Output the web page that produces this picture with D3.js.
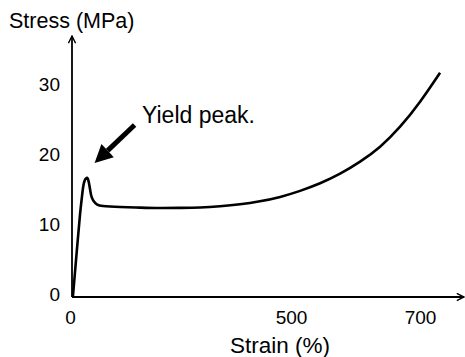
<!DOCTYPE html>
<html>
<head>
<meta charset="utf-8">
<script src="https://cdn.jsdelivr.net/npm/d3@7"></script>
<style>
  body { margin: 0; background: #fff; }
  text { font-family: "Liberation Sans", Arial, sans-serif; fill: #000; }
</style>
</head>
<body>
<div id="chart"></div>
<script>
// Strain (%) and stress (MPa)
var strain = [2, 11, 18, 23, 27, 33, 38, 43, 48, 57, 70, 86, 109, 154, 199, 244, 290, 335, 380, 425, 471, 511, 542, 573, 604, 635, 666, 697, 728];
var stress = [0, 6.7, 11.7, 14.6, 16.3, 17.0, 16.4, 14.6, 13.8, 13.2, 13.0, 12.93, 12.86, 12.77, 12.71, 12.73, 12.79, 12.96, 13.24, 13.67, 14.3, 15.16, 16.24, 17.61, 19.33, 21.47, 24.33, 27.9, 32.04];

var xTicks = [0, 500, 700];
var yTicks = [0, 10, 20, 30];

var svgWidth = 465;
var svgHeight = 357;

var svg = d3.select("#chart")
  .append("svg")
  .attr("width", svgWidth)
  .attr("height", svgHeight);

// the x axis of the original is not to scale, so the scale is piecewise
var xScale = d3.scaleLinear()
  .domain(xTicks)
  .range([72, 293, 422]);

var yScale = d3.scaleLinear()
  .domain([0, 30])
  .range([297, 87]);

// open arrow heads for the axes
var defs = svg.append("defs");
defs.append("marker")
  .attr("id", "axisArrow")
  .attr("viewBox", "0 0 10 10")
  .attr("refX", 9)
  .attr("refY", 5)
  .attr("markerWidth", 5)
  .attr("markerHeight", 5)
  .attr("markerUnits", "strokeWidth")
  .attr("orient", "auto")
  .append("path")
  .attr("d", "M1,1 L9,5 L1,9")
  .attr("fill", "none")
  .attr("stroke", "#000")
  .attr("stroke-width", 1.6);

// axes lines
svg.append("line")
  .attr("x1", xScale(0)).attr("y1", yScale(0))
  .attr("x2", svgWidth - 1).attr("y2", yScale(0))
  .attr("stroke", "#000")
  .attr("stroke-width", 1.8)
  .attr("marker-end", "url(#axisArrow)");

svg.append("line")
  .attr("x1", xScale(0)).attr("y1", yScale(0))
  .attr("x2", xScale(0)).attr("y2", 36)
  .attr("stroke", "#000")
  .attr("stroke-width", 1.8)
  .attr("marker-end", "url(#axisArrow)");

// tick labels
var bottomAxis = d3.axisBottom(xScale).tickValues(xTicks).tickSize(0).tickPadding(14);
var leftAxis = d3.axisLeft(yScale).tickValues(yTicks).tickSize(0).tickPadding(12);

var gx = svg.append("g")
  .attr("transform", `translate(0, ${yScale(0)})`)
  .call(bottomAxis);
gx.select(".domain").remove();
gx.selectAll("text")
  .attr("font-size", 19)
  .attr("font-family", "Liberation Sans, Arial, sans-serif")
  .attr("dx", -2);

var gy = svg.append("g")
  .attr("transform", `translate(${xScale(0)}, 0)`)
  .call(leftAxis);
gy.select(".domain").remove();
gy.selectAll("text")
  .attr("font-size", 19)
  .attr("font-family", "Liberation Sans, Arial, sans-serif")
  .attr("dy", "0.2em");

// axis titles
svg.append("text")
  .attr("x", 9)
  .attr("y", 28)
  .attr("font-size", 21.5)
  .text("Stress (MPa)");

svg.append("text")
  .attr("x", 280)
  .attr("y", 353)
  .attr("text-anchor", "middle")
  .attr("font-size", 22.5)
  .text("Strain (%)");

// the curve
var line = d3.line()
  .x(function(d, i) { return xScale(strain[i]); })
  .y(function(d) { return yScale(d); })
  .curve(d3.curveNatural);

svg.append("path")
  .datum(stress)
  .attr("d", line)
  .attr("fill", "none")
  .attr("stroke", "#000")
  .attr("stroke-width", 2.6)
  .attr("stroke-linejoin", "round");

// yield peak annotation
var peakIndex = d3.maxIndex(stress.slice(0, 10));
var px = xScale(strain[peakIndex]);
var py = yScale(stress[peakIndex]);
var tip = [px + 8, py - 15];
var tail = [px + 48, py - 53];
var ang = Math.atan2(tail[1] - tip[1], tail[0] - tip[0]);
var headLen = 18, headHalf = 9;
var base = [tip[0] + headLen * Math.cos(ang), tip[1] + headLen * Math.sin(ang)];

svg.append("line")
  .attr("x1", tail[0]).attr("y1", tail[1])
  .attr("x2", base[0]).attr("y2", base[1])
  .attr("stroke", "#000")
  .attr("stroke-width", 5);

svg.append("path")
  .attr("d", d3.line()([
    tip,
    [base[0] + headHalf * Math.sin(ang), base[1] - headHalf * Math.cos(ang)],
    [base[0] - headHalf * Math.sin(ang), base[1] + headHalf * Math.cos(ang)]
  ]) + "Z")
  .attr("fill", "#000");

svg.append("text")
  .attr("x", 142)
  .attr("y", 123)
  .attr("font-size", 23)
  .text("Yield peak.");
</script>
</body>
</html>
